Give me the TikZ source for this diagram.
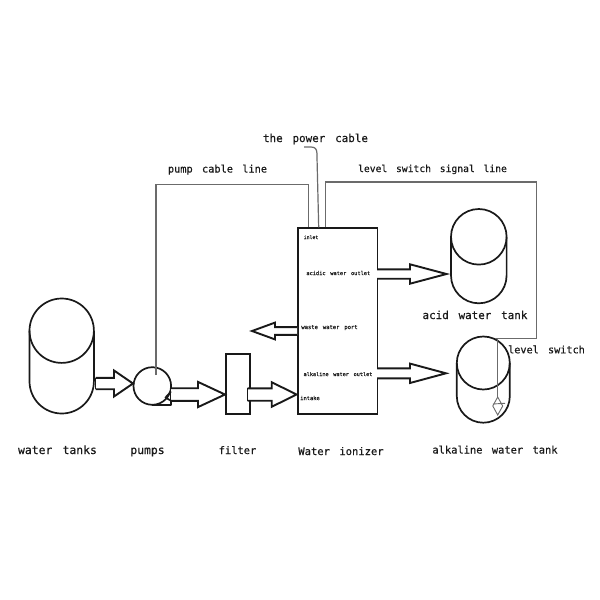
\documentclass[tikz,border=0pt]{standalone}
\usepackage{fontspec}
\setmonofont[FakeBold=0.35]{DejaVu Sans Mono}
\usetikzlibrary{calc}
\definecolor{ink}{gray}{0.1}
\definecolor{cable}{gray}{0.42}
\newcommand{\gp}{\hspace{0.9em}}
\tikzset{
  lab/.style={font=\fontsize{#1}{#1}\selectfont\ttfamily, text=ink, inner sep=0pt, anchor=base},
  shell/.style={draw=ink, line width=1.7pt, line join=round},
  flow/.style={draw=ink, line width=1.9pt, line join=miter, fill=white},
  signal/.style={draw=cable, line width=1.2pt, line join=miter},
  boxnode/.style={draw=ink, line width=1.7pt, fill=white, inner sep=0pt, anchor=north west}
}
% block arrow: start, tip, half shaft, head base x, half head
\newcommand{\blockflow}[5]{%
  \draw[flow] let \p1=(#1), \p2=(#2) in
    (\x1,\y2-#3) -- (#4,\y2-#3) -- (#4,\y2-#5) -- (\p2) -- (#4,\y2+#5) -- (#4,\y2+#3) -- (\x1,\y2+#3);
}
% tank: centre x, top circle centre y, bottom arc centre y, radius
\newcommand{\tank}[4]{%
  \draw[shell] (#1,#2) circle[radius=#4];
  \draw[shell] (#1-#4,#2) -- (#1-#4,#3) arc[start angle=180,end angle=0,radius=#4] -- (#1+#4,#2);
}
\begin{document}
\begin{tikzpicture}[x=1pt,y=-1pt]
\useasboundingbox (0,0) rectangle (600,600);
\fill[white] (0,0) rectangle (600,600);

\coordinate (pumpin) at (156,375);
\coordinate (pwrfree) at (304,147);
\coordinate (floattop) at (497.5,397);

% tanks
\tank{61.7}{330.7}{381.3}{32.2}
\tank{478.8}{236.8}{275.5}{27.8}
\tank{483.3}{363}{396.2}{26.5}

% ionizer and filter
\node[boxnode, minimum width=24pt, minimum height=60pt] (filter) at (225,353.3) {};
\node[boxnode, minimum width=79.4pt, minimum height=186pt] (ionizer) at (297.3,227.3) {};

% pump
\node[circle, draw=ink, line width=1.7pt, minimum size=37.6pt, inner sep=0pt] (pump) at (152.3,386) {};
\draw[shell] (152.3,404.8) -- (171,404.8) -- (171,386);

% block arrows
\coordinate (a1s) at (95.5,384); \coordinate (a1t) at (133,383.5);
\coordinate (a2s) at (171,394.5); \coordinate (a2t) at (225,394.5);
\coordinate (a3s) at (247.5,394.5); \coordinate (a3t) at (296.5,394.5);
\coordinate (a4s) at (297,331); \coordinate (a4t) at (252,331);
\coordinate (a5s) at (377,274); \coordinate (a5t) at (446.5,274);
\coordinate (a6s) at (377,373.3); \coordinate (a6t) at (446,373.3);
\blockflow{a1s}{a1t}{5.7}{114}{13}
\draw[flow] (95.5,377.8) -- (95.5,389.2);
\blockflow{a2s}{a2t}{6.3}{198}{12.6}
\draw[shell] (171,391.5) -- (165.5,397.5) -- (171,400.8);
\blockflow{a3s}{a3t}{6.2}{271.7}{12.3}
\draw[flow] (247.5,388.3) -- (247.5,400.7);
\blockflow{a4s}{a4t}{3.9}{275}{8.4}
\blockflow{a5s}{a5t}{4.7}{410}{9.7}
\blockflow{a6s}{a6t}{5}{410}{9.7}

% cables
\draw[signal] (pumpin) -- (156,184.5) -- (308.3,184.5) -- (308.3,227.3);
\draw[signal] (pwrfree) -- (311,147) .. controls (315,147) and (316.8,149) .. (316.9,153) -- (318.7,227.3);
\draw[signal] (325.3,227.3) -- (325.3,182) -- (536.7,182) -- (536.7,338.3) -- (495,338.3);
\draw[signal] (497.5,338.3) -- (floattop);

% float
\draw[draw=cable, line width=0.9pt] (497.7,397) -- (492.8,406) -- (497.7,415) -- (502.7,406) -- cycle;
\draw[draw=cable, line width=0.9pt] (492.8,404) -- (505,403.3);

% labels
\node[lab=10.9] (tpower) at (315.5,142) {the\gp power\gp cable};
\node[lab=10.3] (tpumpc) at (217.5,172.5) {pump\gp cable\gp line};
\node[lab=9.7] (tlevel) at (432.5,172) {level\gp switch\gp signal\gp line};
\node[lab=10.9] (tacid) at (475,319) {acid\gp water\gp tank};
\node[lab=10.2] (tsw) at (546.5,353.3) {level\gp switch};
\node[lab=11.4] (twt) at (57.5,454) {water\gp tanks};
\node[lab=11.4] (tpm) at (147.5,454) {pumps};
\node[lab=10.4] (tfl) at (237.5,454) {filter};
\node[lab=10.5] (tion) at (341,455) {Water\gp ionizer};
\node[lab=10.4] (talk) at (495,453.5) {alkaline\gp water\gp tank};

\node[lab=4.8] (tinlet) at (311,239) {inlet};
\node[lab=5.3] (tacout) at (338.3,275) {acidic\gp water\gp outlet};
\node[lab=5.5] (twaste) at (329.5,329) {waste\gp water\gp port};
\node[lab=5.2] (talout) at (338,376) {alkaline\gp water\gp outlet};
\node[lab=5.4] (tintake) at (310,400) {intake};
\end{tikzpicture}
\end{document}
